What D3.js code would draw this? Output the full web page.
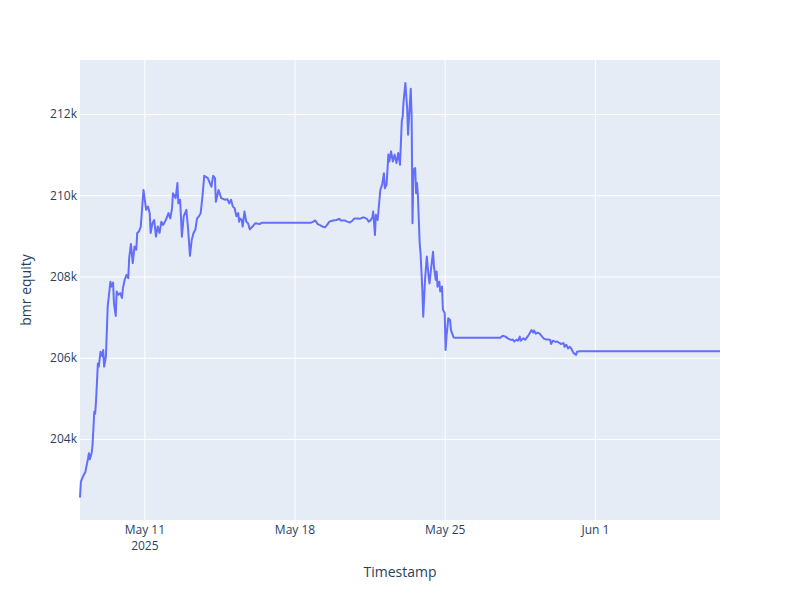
<!DOCTYPE html>
<html>
<head>
<meta charset="utf-8">
<script src="https://cdn.jsdelivr.net/npm/d3@7"></script>
<style>
  html, body { margin: 0; padding: 0; background: #fff; }
  text { font-family: "Open Sans", verdana, arial, sans-serif; }
</style>
</head>
<body>
<script>
// start of the series, hours from start, and equity readings
var startTime = Date.UTC(2025, 4, 8, 0, 0);

var hours = [
  0,1,4,6,9,10,11,13,14,16,
  17,18,20,21,23,25,26,27,29,31,
  32,34,35,37,38,40,41,43,45,47,
  48,50,52,54,55,57,59,61,63,64,
  66,68,71,74,76,78,79,81,83,85,
  87,89,91,93,96,99,101,103,104,107,
  109,110,112,114,116,119,121,123,125,127,
  129,131,133,135,137,139,143,147,149,151,
  152,155,158,162,165,167,169,171,173,175,
  177,178,179,181,182,184,186,188,190,193,
  196,201,203,258,261,263,266,269,271,274,
  276,279,283,287,290,292,296,299,302,305,
  307,310,313,316,318,321,323,325,327,328,
  330,331,333,336,338,340,341,343,345,346,
  348,350,352,354,356,358,360,361,362,364,
  366,367,370,371,372,373,375,376,377,378,
  380,381,383,384,386,388,390,391,393,395,
  396,398,399,400,402,403,405,406,408,409,
  410,412,414,415,418,421,470,473,476,479,
  482,484,486,488,490,492,493,496,498,500,
  502,505,507,508,510,512,514,517,519,521,
  524,526,527,529,532,534,536,538,541,542,
  544,546,548,550,552,555,556,559,716
];

var equity = [
  202560,202950,203110,203190,203520,203650,203500,203650,203850,204670,
  204620,204960,205860,205780,206150,206030,206190,205780,206030,207260,
  207470,207870,207750,207850,207340,207030,207630,207550,207590,207470,
  207710,207920,208040,207960,208450,208800,208330,208740,208660,209070,
  209110,209230,210130,209640,209720,209560,209070,209310,209390,208980,
  209230,209070,209350,209270,209390,209560,209430,209680,210050,209930,
  210300,209800,209890,208980,209480,209640,209150,208510,208900,209070,
  209150,209430,209480,209560,209970,210480,210420,210210,210480,210420,
  209840,210130,209930,209890,209900,209800,209890,209720,209680,209480,
  209560,209350,209430,209390,209230,209600,209350,209310,209160,209230,
  209310,209290,209320,209320,209350,209380,209290,209260,209230,209210,
  209260,209350,209380,209390,209420,209380,209380,209350,209330,209380,
  209430,209430,209420,209450,209450,209420,209350,209380,209450,209600,
  209020,209520,209390,210130,210260,210540,210170,210260,211000,210830,
  211080,210830,211000,210790,211040,210750,211820,211940,212310,212760,
  212140,211490,212620,211980,209310,210630,210670,210050,210300,210010,
  208820,208570,207670,207010,207920,208490,208000,207830,208240,208610,
  208240,207920,208120,207750,207870,207630,207750,207180,207100,206190,
  206520,206970,206930,206680,206500,206490,206490,206540,206520,206470,
  206440,206450,206400,206440,206420,206520,206420,206480,206440,206500,
  206560,206680,206620,206670,206590,206620,206600,206520,206470,206450,
  206450,206440,206340,206420,206390,206400,206370,206340,206360,206270,
  206320,206230,206270,206210,206120,206070,206150,206160,206160
];

var yTicks = [204000, 206000, 208000, 210000, 212000];
var yDomain = [202006, 213329];

var data = hours.map(function(h, i) {
  return { t: new Date(startTime + h * 3600e3), v: equity[i] };
});

var W = 800, H = 600;
var margin = { left: 80, right: 80, top: 60, bottom: 80 };
var pw = W - margin.left - margin.right,
    ph = H - margin.top - margin.bottom;

var svg = d3.select("body").append("svg")
    .attr("width", W)
    .attr("height", H);

var g = svg.append("g")
    .attr("transform", "translate(" + margin.left + "," + margin.top + ")");

g.append("rect")
    .attr("width", pw)
    .attr("height", ph)
    .attr("fill", "#e5ecf6");

var x = d3.scaleUtc()
    .domain(d3.extent(data, function(d) { return d.t; }))
    .range([0, pw]);

var y = d3.scaleLinear()
    .domain(yDomain)
    .range([ph, 0]);

//y axis with grid lines
var yAxis = g.append("g")
    .call(d3.axisLeft(y)
        .tickValues(yTicks)
        .tickSize(-pw)
        .tickPadding(3)
        .tickFormat(d3.format("~s")));
yAxis.select(".domain").remove();
yAxis.selectAll("line").attr("stroke", "#fff").attr("stroke-width", 1);
yAxis.selectAll("text")
    .attr("fill", "#2a3f5f")
    .style("font-size", "12px");

//x axis, weekly ticks on Sundays
var fmt = d3.utcFormat("%b %-d");
var xAxis = g.append("g")
    .attr("transform", "translate(0," + ph + ")")
    .call(d3.axisBottom(x)
        .ticks(d3.utcSunday)
        .tickSize(-ph)
        .tickPadding(5)
        .tickFormat(fmt));
xAxis.select(".domain").remove();
xAxis.selectAll("line").attr("stroke", "#fff").attr("stroke-width", 1);
xAxis.selectAll("text")
    .attr("fill", "#2a3f5f")
    .style("font-size", "12px");

// year under the first tick label
xAxis.select(".tick text")
    .append("tspan")
    .attr("x", 0)
    .attr("dy", "1.4em")
    .text(function(d) { return d3.utcFormat("%Y")(d); });

var line = d3.line()
    .x(function(d) { return x(d.t); })
    .y(function(d) { return y(d.v); });

g.append("path")
    .datum(data)
    .attr("d", line)
    .attr("fill", "none")
    .attr("stroke", "#636efa")
    .attr("stroke-width", 2)
    .attr("stroke-linejoin", "round");

//axis titles
svg.append("text")
    .attr("x", margin.left + pw / 2)
    .attr("y", 577)
    .attr("text-anchor", "middle")
    .attr("fill", "#2a3f5f")
    .style("font-size", "14px")
    .text("Timestamp");

svg.append("text")
    .attr("transform", "translate(31," + (margin.top + ph / 2) + ") rotate(-90)")
    .attr("text-anchor", "middle")
    .attr("fill", "#2a3f5f")
    .style("font-size", "14px")
    .text("bmr equity");
</script>
</body>
</html>
